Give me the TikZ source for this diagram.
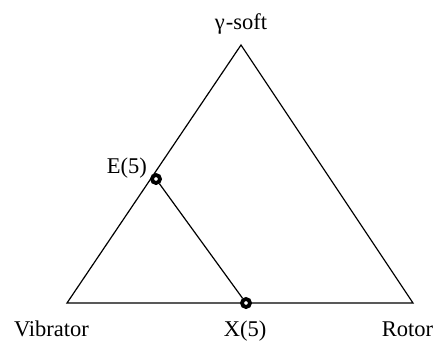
\documentclass[tikz,border=0pt]{standalone}
\usepackage{fontspec}
\setmainfont{Liberation Serif}
\begin{document}
\begin{tikzpicture}[x=1pt,y=-1pt,
  edge/.style={line width=1.2pt},
  pt/.style={circle,draw,line width=3.8pt,fill=white,minimum size=8pt,inner sep=0pt},
  lbl/.style={font=\fontsize{22.5}{25}\selectfont,inner sep=0pt}]
\useasboundingbox (0,0) rectangle (438,341);
\coordinate (V) at (67,303);
\coordinate (R) at (413,303);
\coordinate (G) at (241,45);
\draw[edge,line join=miter] (V) -- (G) -- (R) -- cycle;
\node[pt] (E) at (156,179) {};
\node[pt] (X) at (246,303) {};
\draw[edge] (E) -- (X);
\node[lbl,anchor=base] (gl) at (241,29) {γ\kern1pt-soft};
\node[lbl,anchor=base east] (el) at (147,173) {E(5)};
\node[lbl,anchor=base] (vl) at (51.5,336) {Vibrator};
\node[lbl,anchor=base] (xl) at (245,336) {X(5)};
\node[lbl,anchor=base] (rl) at (407.5,336) {Rotor};
\end{tikzpicture}
\end{document}
